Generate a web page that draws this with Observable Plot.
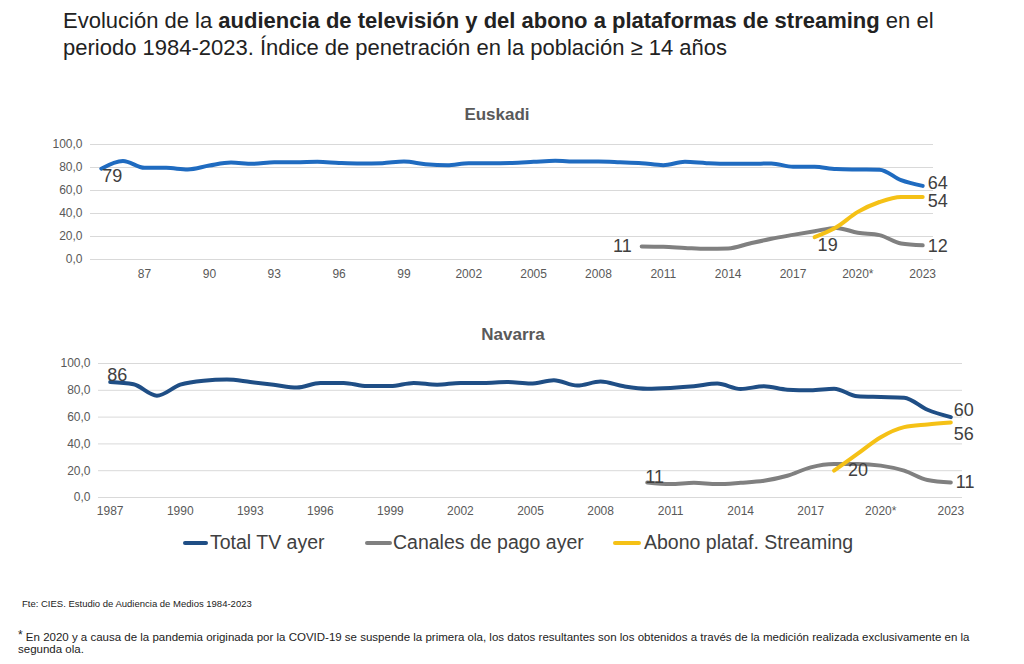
<!DOCTYPE html>
<html>
<head>
<meta charset="utf-8">
<script src="https://cdn.jsdelivr.net/npm/d3@7"></script>
<script src="https://cdn.jsdelivr.net/npm/@observablehq/plot@0.6"></script>
<style>
  html, body { margin: 0; padding: 0; background: #fff; }
  #root { position: relative; width: 1024px; height: 664px; overflow: hidden; font-family: "Liberation Sans", Arial, sans-serif; }
  .abs { position: absolute; }
  #title { left: 63px; top: 7px; font-size: 22px; line-height: 27px; color: #222; white-space: nowrap; }
  .ptitle { font-size: 17px; font-weight: bold; color: #595959; transform: translateX(-50%); white-space: nowrap; }
  .leg { font-size: 19.5px; color: #404040; white-space: nowrap; }
  .sw { height: 4px; border-radius: 2px; }
  .note { font-size: 11.5px; color: #222; white-space: nowrap; }
</style>
</head>
<body>
<div id="root">
  <div id="title" class="abs">Evolución de la <b>audiencia de televisión y del abono a plataformas de streaming</b> en el<br>periodo 1984-2023. Índice de penetración en la población ≥ 14 años</div>
  <div class="abs ptitle" style="left:497px; top:105px;">Euskadi</div>
  <div class="abs ptitle" style="left:513px; top:325px;">Navarra</div>
  <div id="chartTop" class="abs" style="left:0; top:100px;"></div>
  <div id="chartBottom" class="abs" style="left:0; top:320px;"></div>

  <div class="abs sw" style="left:183px; top:541px; width:25px; background:#1f4e85;"></div>
  <div class="abs leg" style="left:210px; top:531px;">Total TV ayer</div>
  <div class="abs sw" style="left:365px; top:541px; width:27px; background:#808080;"></div>
  <div class="abs leg" style="left:393px; top:531px;">Canales de pago ayer</div>
  <div class="abs sw" style="left:613px; top:541px; width:28px; background:#f5c116;"></div>
  <div class="abs leg" style="left:644px; top:531px;">Abono plataf. Streaming</div>

  <div class="abs note" style="left:22px; top:598px; font-size:9.5px;">Fte: CIES. Estudio de Audiencia de Medios 1984-2023</div>
  <div class="abs note" style="left:18px; top:628px;"><span style="font-size:12px; vertical-align:2px;">*</span> En 2020 y a causa de la pandemia originada por la COVID-19 se suspende la primera ola, los datos resultantes son los obtenidos a través de la medición realizada exclusivamente en la</div>
  <div class="abs note" style="left:18px; top:643px;">segunda ola.</div>
</div>
<script>
// ---------- DATA ----------
// Euskadi
const eusTvYears = [1985,1986,1987,1988,1989,1990,1991,1992,1993,1994,1995,1996,1997,1998,1999,2000,2001,2002,2003,2004,2005,2006,2007,2008,2009,2010,2011,2012,2013,2014,2015,2016,2017,2018,2019,2020,2021,2022,2023];
const eusTv = [79,85.7,79.7,79.7,78.3,81.7,84.3,83.2,84.6,84.6,84.9,84,83.5,83.8,85.2,82.9,82,83.8,83.8,84,84.9,85.8,85.2,85.2,84.6,83.8,82,84.9,83.8,83.2,83.2,83.5,80.6,80.6,78.6,78.3,78.1,69,64];
const eusCanYears = [2010,2011,2012,2013,2014,2015,2016,2017,2018,2019,2020,2021,2022,2023];
const eusCanales = [11.4,11,10.1,9.3,9.6,13.9,18,21.4,24.6,27.5,23.2,21.2,13.9,12.3];
const eusStrYears = [2018,2019,2020,2021,2022,2023];
const eusStreaming = [19.4,28,41.4,50,54.4,54.3];
const eusTicks = [1987,1990,1993,1996,1999,2002,2005,2008,2011,2014,2017,2020,2023];
const eusTickLabels = ["87","90","93","96","99","2002","2005","2008","2011","2014","2017","2020*","2023"];

// Navarra
const navTvYears = [1987,1988,1989,1990,1991,1992,1993,1994,1995,1996,1997,1998,1999,2000,2001,2002,2003,2004,2005,2006,2007,2008,2009,2010,2011,2012,2013,2014,2015,2016,2017,2018,2019,2020,2021,2022,2023];
const navTv = [86.2,84.5,76,84.2,87.2,88,86.2,84.2,82,85.5,85.5,83.2,83.2,85.5,84.2,85.5,85.5,86.2,85,87.5,83.5,86.5,83,81.2,81.8,83,85,81,83,80.5,80,81.2,75.5,75,74.5,65.5,60];
const navCanYears = [2010,2011,2012,2013,2014,2015,2016,2017,2018,2019,2020,2021,2022,2023];
const navCanales = [11.2,10,11,10,11,12.5,16.2,22.5,25,25,23.8,20,13,11.2];
const navStrYears = [2018,2019,2020,2021,2022,2023];
const navStreaming = [20,32.5,45,52.5,54.5,56];
const navTicks = [1987,1990,1993,1996,1999,2002,2005,2008,2011,2014,2017,2020,2023];
const navTickLabels = ["1987","1990","1993","1996","1999","2002","2005","2008","2011","2014","2017","2020*","2023"];

const yTicks = [0,20,40,60,80,100];
const seriesNames = ["Total TV ayer","Canales de pago ayer","Abono plataf. Streaming"];

// ---------- CHART ----------
function rows(years, values, series) {
  return years.map((y, i) => ({year: y, value: values[i], series}));
}
function pt(years, values, i) {
  const k = i < 0 ? years.length + i : i;
  return {year: years[k], value: values[k], label: String(Math.round(values[k]))};
}

function makeChart(opt) {
  const tickMap = new Map(opt.ticks.map((t, i) => [t, opt.tickLabels[i]]));
  const lineOpts = {x: "year", y: "value", strokeWidth: 4, curve: opt.curve, strokeLinecap: "round", strokeLinejoin: "round"};
  const textMarks = opt.labels.map(l => Plot.text([l.p], {
    x: "year", y: "value", text: "label", dx: l.dx, dy: l.dy, textAnchor: l.anchor,
    fontSize: 18, fill: "#404040", lineAnchor: "middle"
  }));
  return Plot.plot({
    width: 1024,
    height: opt.height,
    marginLeft: opt.marginLeft,
    marginRight: opt.marginRight,
    marginTop: opt.marginTop,
    marginBottom: opt.marginBottom,
    style: {fontFamily: "'Liberation Sans', Arial, sans-serif", fontSize: "12px", color: "#595959", background: "transparent", overflow: "visible"},
    x: {type: "linear", domain: opt.xDomain, label: null},
    y: {domain: [0, 100], label: null},
    marks: [
      Plot.ruleY(yTicks, {stroke: "#d9d9d9", strokeWidth: 1}),
      Plot.axisY(yTicks, {tickSize: 0, tickPadding: 8, tickFormat: d => d.toFixed(1).replace(".", ","), fontSize: 12, label: null}),
      Plot.axisX(opt.ticks, {tickSize: 0, tickPadding: opt.xPad, tickFormat: d => tickMap.get(d), fontSize: 12, label: null}),
      Plot.line(opt.tv, {...lineOpts, stroke: opt.tvColor}),
      Plot.line(opt.can, {...lineOpts, stroke: "#808080"}),
      Plot.line(opt.str, {...lineOpts, stroke: "#f5c116"}),
      ...textMarks
    ]
  });
}

const chartTop = makeChart({
  height: 190, marginTop: 44, marginBottom: 31, marginLeft: 90, marginRight: 91,
  xDomain: [1984.5, 2023.5], ticks: eusTicks, tickLabels: eusTickLabels, xPad: 10,
  tvColor: "#1f6bc0", curve: "monotone-x",
  tv: rows(eusTvYears, eusTv, seriesNames[0]),
  can: rows(eusCanYears, eusCanales, seriesNames[1]),
  str: rows(eusStrYears, eusStreaming, seriesNames[2]),
  labels: [
    {p: pt(eusTvYears, eusTv, 0), dx: 1, dy: 8, anchor: "start"},
    {p: pt(eusTvYears, eusTv, -1), dx: 5, dy: -3, anchor: "start"},
    {p: pt(eusStrYears, eusStreaming, -1), dx: 5, dy: 4, anchor: "start"},
    {p: pt(eusCanYears, eusCanales, -1), dx: 5, dy: 1, anchor: "start"},
    {p: pt(eusCanYears, eusCanales, 0), dx: -10, dy: 0, anchor: "end"},
    {p: pt(eusStrYears, eusStreaming, 0), dx: 3, dy: 8, anchor: "start"}
  ]
});
document.getElementById("chartTop").appendChild(chartTop);

const chartBottom = makeChart({
  height: 200, marginTop: 43, marginBottom: 23, marginLeft: 98, marginRight: 62,
  xDomain: [1986.5, 2023.5], ticks: navTicks, tickLabels: navTickLabels, xPad: 9,
  tvColor: "#1f4e85", curve: "monotone-x",
  tv: rows(navTvYears, navTv, seriesNames[0]),
  can: rows(navCanYears, navCanales, seriesNames[1]),
  str: rows(navStrYears, navStreaming, seriesNames[2]),
  labels: [
    {p: pt(navTvYears, navTv, 0), dx: -3, dy: -7, anchor: "start"},
    {p: pt(navTvYears, navTv, -1), dx: 3, dy: -7, anchor: "start"},
    {p: pt(navStrYears, navStreaming, -1), dx: 3, dy: 12, anchor: "start"},
    {p: pt(navCanYears, navCanales, -1), dx: 5, dy: 0, anchor: "start"},
    {p: pt(navCanYears, navCanales, 0), dx: -2, dy: -5, anchor: "start"},
    {p: pt(navStrYears, navStreaming, 0), dx: 14, dy: 0, anchor: "start"}
  ]
});
document.getElementById("chartBottom").appendChild(chartBottom);
</script>
</body>
</html>
